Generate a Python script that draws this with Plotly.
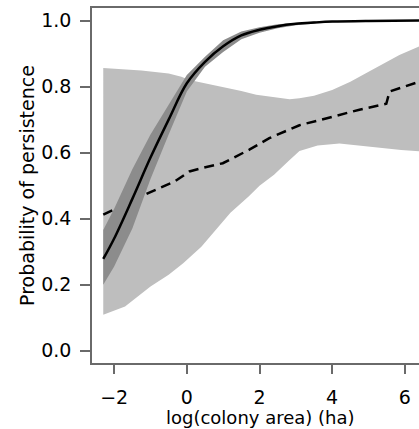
import plotly.graph_objects as go

# Solid fitted curve (with dark confidence band)
fit_x = [-2.3, -2.0, -1.5, -1.0, -0.5, 0.0, 0.5, 1.0, 1.5, 2.0, 2.5, 3.0, 3.5, 4.0, 5.0, 6.4]
fit_y = [0.278, 0.34, 0.46, 0.585, 0.70, 0.81, 0.875, 0.922, 0.955, 0.972, 0.983, 0.99, 0.994, 0.997, 0.999, 1.0]
fit_lo = [0.20, 0.255, 0.37, 0.52, 0.655, 0.785, 0.86, 0.905, 0.943, 0.963, 0.977, 0.986, 0.991, 0.995, 0.998, 0.999]
fit_hi = [0.366, 0.43, 0.55, 0.655, 0.745, 0.835, 0.89, 0.94, 0.967, 0.98, 0.989, 0.994, 0.997, 0.999, 1.0, 1.0]

# Light band (confidence interval of the dashed curve)
up_x = [-2.3, -1.8, -1.25, -0.5, -0.15, 0.07, 0.5, 0.98, 1.5, 1.91, 2.4, 2.83, 3.1, 3.5, 4.0, 4.5, 4.94, 5.4, 5.85, 6.4]
up_y = [0.856, 0.853, 0.849, 0.84, 0.83, 0.82, 0.81, 0.80, 0.787, 0.775, 0.767, 0.762, 0.765, 0.772, 0.79, 0.815, 0.841, 0.87, 0.896, 0.922]
lo_x = [-2.3, -1.7, -1.0, -0.5, -0.1, 0.4, 0.8, 1.2, 1.7, 2.0, 2.4, 2.8, 3.1, 3.6, 4.2, 4.8, 5.4, 5.9, 6.4]
lo_y = [0.109, 0.134, 0.195, 0.23, 0.265, 0.315, 0.366, 0.418, 0.467, 0.50, 0.533, 0.575, 0.605, 0.622, 0.628, 0.622, 0.614, 0.608, 0.604]

# Dashed curve
dash_x = [-2.3, -2.03, -1.5, -0.97, -0.33, 0.07, 0.40, 0.99, 1.72, 2.27, 3.1, 4.02, 4.75, 5.49, 5.58, 5.85, 6.4]
dash_y = [0.412, 0.427, 0.455, 0.482, 0.513, 0.543, 0.553, 0.568, 0.609, 0.644, 0.683, 0.709, 0.73, 0.748, 0.785, 0.795, 0.815]

x_ticks = [-2, 0, 2, 4, 6]
y_ticks = [0.0, 0.2, 0.4, 0.6, 0.8, 1.0]
x_title = "log(colony area) (ha)"
y_title = "Probability of persistence"

FONT = "DejaVu Sans"
AX = "#6a6a6a"

fig = go.Figure()
fig.add_trace(go.Scatter(
    x=up_x + lo_x[::-1], y=up_y + lo_y[::-1], fill="toself",
    fillcolor="#BEBEBE", line=dict(width=0), mode="lines",
    hoverinfo="skip", showlegend=False))
fig.add_trace(go.Scatter(
    x=dash_x, y=dash_y, mode="lines",
    line=dict(color="black", width=2.5, dash="10px,6px"), showlegend=False))
fig.add_trace(go.Scatter(
    x=fit_x + fit_x[::-1], y=fit_hi + fit_lo[::-1], fill="toself",
    fillcolor="#8C8C8C", line=dict(width=0), mode="lines",
    hoverinfo="skip", showlegend=False))
fig.add_trace(go.Scatter(
    x=fit_x, y=fit_y, mode="lines", line=dict(color="black", width=2.5, shape="spline"),
    showlegend=False))

fig.update_layout(
    width=419, height=429,
    margin=dict(l=92, r=0, t=8, b=66),
    paper_bgcolor="white", plot_bgcolor="white",
    font=dict(family=FONT, size=19, color="black"),
    showlegend=False,
)
fig.update_xaxes(
    range=[-2.61, 6.39], tickvals=x_ticks, ticks="outside", ticklen=9,
    tickcolor=AX, tickwidth=1.5, showline=True, linecolor=AX, linewidth=1.5,
    mirror=True, showgrid=False, zeroline=False, ticklabelstandoff=7,
    automargin=False,
)
fig.update_yaxes(
    range=[-0.037, 1.038], tickvals=y_ticks, tickformat=".1f", ticks="outside",
    ticklen=10, tickcolor=AX, tickwidth=1.5, showline=True, linecolor=AX,
    linewidth=1.5, mirror=False, showgrid=False, zeroline=False,
    ticklabelstandoff=5,
    title=dict(text=y_title, standoff=2, font=dict(size=19)),
    automargin=False,
)
fig.add_annotation(
    text=x_title, xref="paper", yref="paper", x=0.514, y=0,
    xanchor="center", yanchor="middle", yshift=-54, showarrow=False,
    font=dict(size=18), borderpad=0,
)

fig.write_html("out.html", config={"displayModeBar": False},
               post_script="document.body.style.margin='0';")
